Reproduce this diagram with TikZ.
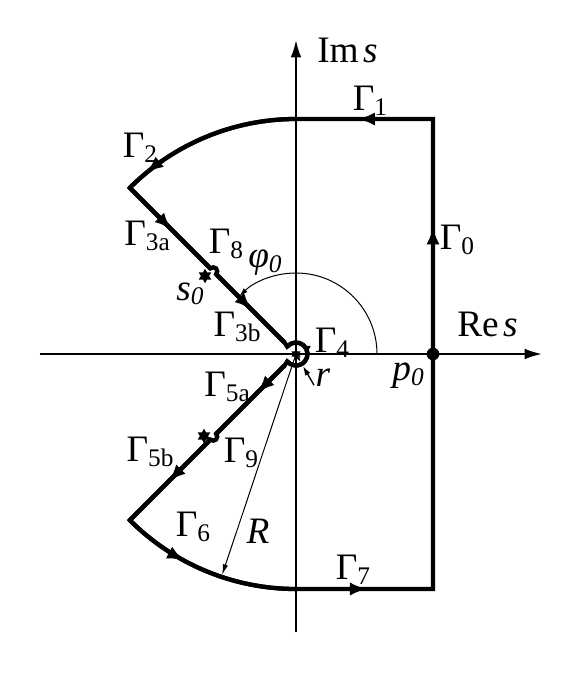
\documentclass[tikz,border=0pt]{standalone}
\usepackage{fontspec}
\setmainfont{Liberation Serif}
\usetikzlibrary{arrows.meta,decorations.markings,shapes.geometric}
\newcommand{\sbs}[1]{\raisebox{-0.12em}{\fontsize{19}{19}\selectfont #1}}
\begin{document}
\begin{tikzpicture}[x=0.75pt,y=0.75pt,
  ctr/.style={line width=3.2pt},
  axl/.style={line width=1.4pt,-{Latex[length=13pt,width=8pt]}},
  thn/.style={line width=0.75pt},
  am/.style={postaction={decorate,decoration={markings,mark=at position #1 with {\arrow{Latex[length=13pt,width=10pt]}}}}},
  amsm/.style={postaction={decorate,decoration={markings,mark=at position #1 with {\arrow{Latex[length=6pt,width=5pt]}}}}},
  lbl/.style={inner sep=0pt,font=\fontsize{28}{30}\selectfont},
  sing/.style={star,star points=6,star point ratio=1.8,fill,draw=none,inner sep=0pt,minimum size=11pt}]
\useasboundingbox (-296,-319) rectangle (285,354);
% axes
\coordinate (O) at (0,0);
\coordinate (yb) at (0,-278); \coordinate (yt) at (0,314);
\coordinate (xl) at (-256,0); \coordinate (xr) at (246,0);
\draw[axl] (yb) -- (yt);
\draw[axl] (xl) -- (xr);
% contour points
\coordinate (A0) at (137,-235);
\coordinate (A1) at (137,235);
\coordinate (A2) at (0,235);
\coordinate (A3) at (135:235);
\coordinate (B8a) at (135:121);
\coordinate (B8b) at (135:113);
\coordinate (C3) at (135:16);
\coordinate (C4s) at (140:11.5);
\coordinate (C4e) at (220:11.5);
\coordinate (C5) at (225:16);
\coordinate (B9a) at (225:113);
\coordinate (B9b) at (225:121);
\coordinate (A6) at (225:235);
\coordinate (A7) at (0,-235);
% full contour
\draw[ctr] (A0) -- (A1) -- (A2) arc[start angle=90,end angle=135,radius=235]
  -- (B8a) arc[start angle=135,end angle=-45,radius=4] -- (C3) -- (C4s)
  arc[start angle=140,end angle=-140,radius=11.5] -- (C5) -- (B9a)
  arc[start angle=45,end angle=-135,radius=4] -- (A6)
  arc[start angle=225,end angle=270,radius=235] -- cycle;
% arrows on pieces
\draw[ctr,am=0.77] (A0) -- (A1);
\draw[ctr,am=0.55] (A1) -- (A2);
\draw[ctr,am=0.88] (A2) arc[start angle=90,end angle=135,radius=235];
\draw[ctr,am=0.52] (A3) -- (B8a);
\draw[ctr,am=0.52] (B8b) -- (C3);
\draw[ctr,amsm=0.5] (C4s) arc[start angle=140,end angle=-140,radius=11.5];
\draw[ctr,am=0.4] (C5) -- (B9a);
\draw[ctr,am=0.52] (B9b) -- (A6);
\draw[ctr,am=0.37] (A6) arc[start angle=225,end angle=270,radius=235];
\draw[ctr,am=0.52] (A7) -- (A0);
% angle phi0
\coordinate (P0s) at (81,0);
\draw[thn,-{Latex[length=6pt,width=4pt]}] (P0s) arc[start angle=0,end angle=134,radius=81];
% radius R
\coordinate (Rt) at (251.5:233);
\draw[thn,-{Latex[length=8pt,width=4pt]}] (O) -- (Rt);
% radius r
\coordinate (rin) at (-60:9);
\coordinate (rot) at (-60:36);
\coordinate (rtp) at (-60:14);
\draw[thn,-{Latex[length=4pt,width=3pt]}] (O) -- (rin);
\draw[line width=1pt,-{Latex[length=7pt,width=4.5pt]}] (rot) -- (rtp);
% points
\node[circle,fill,inner sep=0pt,minimum size=9.5pt] (p0) at (137,0) {};
\node[sing] (s0) at (-91,78) {};
\node[sing] (s1) at (-92,-82) {};
\node[sing,minimum size=8pt] (s2) at (O) {};
% labels
\node[lbl,anchor=base west] (ims) at (21,291) {Im\hspace{0.12em}\textit{s}};
\node[lbl,anchor=base west] (res) at (161,17) {Re\hspace{0.12em}\textit{s}};
\node[lbl] (g1) at (74,253) {Γ\sbs{1}};
\node[lbl] (g0) at (161,114) {Γ\sbs{0}};
\node[lbl] (g2) at (-156,206) {Γ\sbs{2}};
\node[lbl] (g3a) at (-149,118) {Γ\sbs{3a}};
\node[lbl] (g8) at (-70,110) {Γ\sbs{8}};
\node[lbl] (ls0) at (-106,60) {\textit{s}\sbs{\itshape 0}};
\node[lbl] (phi) at (-31,91) {\textit{φ}\sbs{\itshape 0}};
\node[lbl] (g3b) at (-59,27) {Γ\sbs{3b}};
\node[lbl] (g4) at (36,11) {Γ\sbs{4}};
\node[lbl] (lr) at (27,-24) {\textit{r}};
\node[lbl] (lp0) at (112,-22) {\textit{p}\sbs{\itshape 0}};
\node[lbl] (g5a) at (-69,-33) {Γ\sbs{5a}};
\node[lbl] (g5b) at (-146,-98) {Γ\sbs{5b}};
\node[lbl] (g9) at (-55,-99) {Γ\sbs{9}};
\node[lbl] (g6) at (-103,-173) {Γ\sbs{6}};
\node[lbl] (lR) at (-38,-177) {\textit{R}};
\node[lbl] (g7) at (57,-216) {Γ\sbs{7}};
\end{tikzpicture}
\end{document}
